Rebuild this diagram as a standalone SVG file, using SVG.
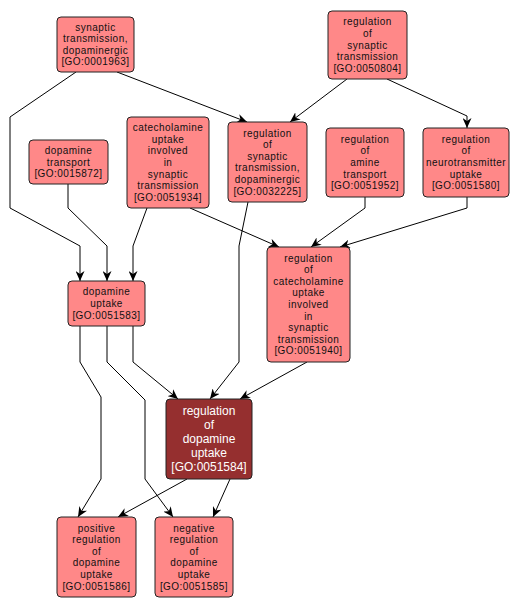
<svg xmlns="http://www.w3.org/2000/svg" width="520" height="610" viewBox="0 0 520 610">
<style>
.n rect{fill:#ff8888;stroke:#222;stroke-width:1}
.n text{font-family:"Liberation Sans",Arial,sans-serif;font-size:10px;letter-spacing:0.45px;fill:#111;text-anchor:middle}
.d rect{fill:#952f2f;stroke:#222;stroke-width:1}
.d text{font-family:"Liberation Sans",Arial,sans-serif;font-size:12px;fill:#fff;text-anchor:middle}
.e path{fill:none;stroke:#000;stroke-width:1;marker-end:url(#ah)}
</style>
<defs>
<marker id="ah" markerUnits="userSpaceOnUse" markerWidth="10" markerHeight="9" refX="10" refY="4.5" orient="auto">
<path d="M0,0 L10,4.5 L0,9 L3,4.5 z" fill="#000"/>
</marker>
</defs>
<rect width="520" height="610" fill="#fff"/>
<g id="edges" class="e">
<path d="M76,72 L10,117 L10,208 L80,246 L80,281"/>
<path d="M117,72 L247,122"/>
<path d="M68,184 L68,208 L107,246 L107,281"/>
<path d="M147,208 L133,246 L133,281"/>
<path d="M190,208 L279,247"/>
<path d="M347,79 L290,122"/>
<path d="M387,79 L467,116 L467,128"/>
<path d="M248,202 L239,246 L239,362 L210,399"/>
<path d="M365,197 L365,208 L311,247"/>
<path d="M467,197 L467,208 L340,247"/>
<path d="M133,326 L133,362 L178,399"/>
<path d="M80,326 L80,362 L101,397 L101,479 L78,517"/>
<path d="M107,326 L107,362 L145,400 L145,479 L173,517"/>
<path d="M307,362 L240,399"/>
<path d="M187,479 L118,517"/>
<path d="M230,479 L213,517"/>
</g>
<g id="GO0001963" class="n"><rect x="57" y="17" width="77" height="55" rx="4"/>
<text x="95.5" y="30.6"><tspan x="95.5">synaptic</tspan><tspan x="95.5" dy="11.6">transmission,</tspan><tspan x="95.5" dy="11.6">dopaminergic</tspan><tspan x="95.5" dy="11.6">[GO:0001963]</tspan></text></g>
<g id="GO0050804" class="n"><rect x="328" y="11" width="79" height="68" rx="4"/>
<text x="367.5" y="25.3"><tspan x="367.5">regulation</tspan><tspan x="367.5" dy="11.6">of</tspan><tspan x="367.5" dy="11.6">synaptic</tspan><tspan x="367.5" dy="11.6">transmission</tspan><tspan x="367.5" dy="11.6">[GO:0050804]</tspan></text></g>
<g id="GO0015872" class="n"><rect x="29" y="140" width="79" height="44" rx="4"/>
<text x="68.5" y="153.9"><tspan x="68.5">dopamine</tspan><tspan x="68.5" dy="11.6">transport</tspan><tspan x="68.5" dy="11.6">[GO:0015872]</tspan></text></g>
<g id="GO0051934" class="n"><rect x="127" y="117" width="82" height="91" rx="4"/>
<text x="168" y="131.2"><tspan x="168">catecholamine</tspan><tspan x="168" dy="11.6">uptake</tspan><tspan x="168" dy="11.6">involved</tspan><tspan x="168" dy="11.6">in</tspan><tspan x="168" dy="11.6">synaptic</tspan><tspan x="168" dy="11.6">transmission</tspan><tspan x="168" dy="11.6">[GO:0051934]</tspan></text></g>
<g id="GO0032225" class="n"><rect x="228" y="122" width="79" height="80" rx="4"/>
<text x="267.5" y="136.5"><tspan x="267.5">regulation</tspan><tspan x="267.5" dy="11.6">of</tspan><tspan x="267.5" dy="11.6">synaptic</tspan><tspan x="267.5" dy="11.6">transmission,</tspan><tspan x="267.5" dy="11.6">dopaminergic</tspan><tspan x="267.5" dy="11.6">[GO:0032225]</tspan></text></g>
<g id="GO0051952" class="n"><rect x="326" y="128" width="78" height="69" rx="4"/>
<text x="365" y="142.8"><tspan x="365">regulation</tspan><tspan x="365" dy="11.6">of</tspan><tspan x="365" dy="11.6">amine</tspan><tspan x="365" dy="11.6">transport</tspan><tspan x="365" dy="11.6">[GO:0051952]</tspan></text></g>
<g id="GO0051580" class="n"><rect x="423" y="128" width="86" height="69" rx="4"/>
<text x="466" y="142.8"><tspan x="466">regulation</tspan><tspan x="466" dy="11.6">of</tspan><tspan x="466" dy="11.6">neurotransmitter</tspan><tspan x="466" dy="11.6">uptake</tspan><tspan x="466" dy="11.6">[GO:0051580]</tspan></text></g>
<g id="GO0051583" class="n"><rect x="68" y="281" width="77" height="45" rx="4"/>
<text x="106.5" y="295.4"><tspan x="106.5">dopamine</tspan><tspan x="106.5" dy="11.6">uptake</tspan><tspan x="106.5" dy="11.6">[GO:0051583]</tspan></text></g>
<g id="GO0051940" class="n"><rect x="267" y="247" width="83" height="115" rx="4"/>
<text x="308.5" y="261.6"><tspan x="308.5">regulation</tspan><tspan x="308.5" dy="11.6">of</tspan><tspan x="308.5" dy="11.6">catecholamine</tspan><tspan x="308.5" dy="11.6">uptake</tspan><tspan x="308.5" dy="11.6">involved</tspan><tspan x="308.5" dy="11.6">in</tspan><tspan x="308.5" dy="11.6">synaptic</tspan><tspan x="308.5" dy="11.6">transmission</tspan><tspan x="308.5" dy="11.6">[GO:0051940]</tspan></text></g>
<g id="GO0051584" class="d"><rect x="166" y="399" width="86" height="80" rx="4"/>
<text x="209" y="415.3"><tspan x="209">regulation</tspan><tspan x="209" dy="14">of</tspan><tspan x="209" dy="14">dopamine</tspan><tspan x="209" dy="14">uptake</tspan><tspan x="209" dy="14">[GO:0051584]</tspan></text></g>
<g id="GO0051586" class="n"><rect x="57" y="517" width="79" height="80" rx="4"/>
<text x="96.5" y="531.5"><tspan x="96.5">positive</tspan><tspan x="96.5" dy="11.6">regulation</tspan><tspan x="96.5" dy="11.6">of</tspan><tspan x="96.5" dy="11.6">dopamine</tspan><tspan x="96.5" dy="11.6">uptake</tspan><tspan x="96.5" dy="11.6">[GO:0051586]</tspan></text></g>
<g id="GO0051585" class="n"><rect x="155" y="517" width="78" height="80" rx="4"/>
<text x="194" y="531.5"><tspan x="194">negative</tspan><tspan x="194" dy="11.6">regulation</tspan><tspan x="194" dy="11.6">of</tspan><tspan x="194" dy="11.6">dopamine</tspan><tspan x="194" dy="11.6">uptake</tspan><tspan x="194" dy="11.6">[GO:0051585]</tspan></text></g>
</svg>
